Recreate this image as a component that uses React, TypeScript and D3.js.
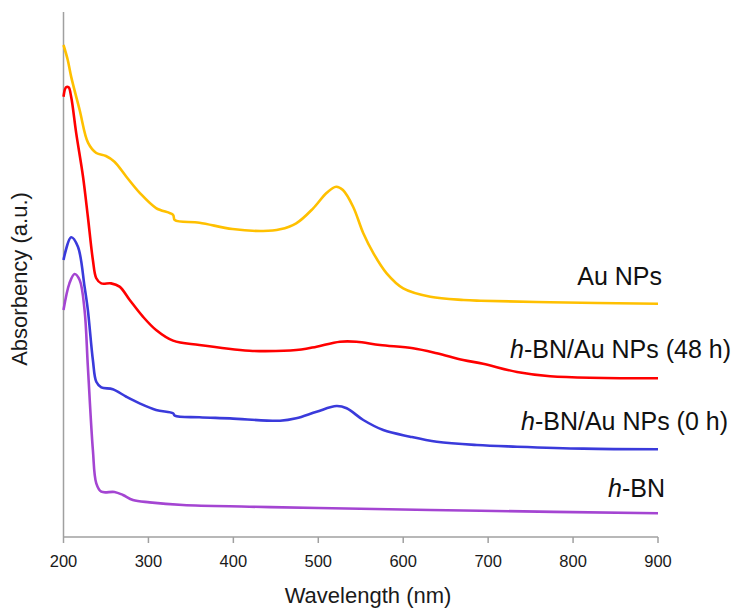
import React from "react";
import * as d3 from "d3";

const xTicks = [200, 300, 400, 500, 600, 700, 800, 900];

const auNPsWl = [200, 205, 209, 219, 229, 238.6, 250, 260, 274, 290, 309, 329, 331, 360, 399, 435, 455, 474, 494, 510, 521, 529, 541, 553, 565, 580.5, 600, 632, 671, 691, 773, 900];
const auNPsAbs = [3.28, 3.18, 3.069, 2.847, 2.627, 2.56, 2.54, 2.502, 2.402, 2.293, 2.193, 2.147, 2.113, 2.095, 2.053, 2.04, 2.051, 2.091, 2.191, 2.295, 2.335, 2.313, 2.202, 2.025, 1.891, 1.758, 1.658, 1.602, 1.58, 1.575, 1.565, 1.555];

const bn48Wl = [200, 203, 206, 209, 215, 223, 228.7, 234.6, 238.6, 244.5, 256, 266, 278, 293.5, 309, 329, 360, 419, 450, 480, 498, 525.5, 545, 572.6, 611.6, 639.5, 670.6, 694, 734, 773, 900];
const bn48Abs = [2.935, 2.998, 2.998, 2.935, 2.691, 2.402, 2.135, 1.847, 1.725, 1.691, 1.691, 1.669, 1.58, 1.469, 1.38, 1.309, 1.28, 1.242, 1.24, 1.25, 1.269, 1.302, 1.302, 1.28, 1.258, 1.225, 1.18, 1.155, 1.1, 1.072, 1.058];

const bn0Wl = [200, 209, 217, 224.8, 228.7, 234.6, 238.6, 244.5, 258, 274, 289.6, 309, 329, 331, 360, 396, 455, 474, 498, 521.5, 533.4, 553, 576.5, 608, 639.5, 686.7, 734, 812, 900];
const bn0Abs = [1.847, 1.998, 1.935, 1.669, 1.513, 1.18, 1.035, 0.998, 0.985, 0.935, 0.891, 0.847, 0.825, 0.809, 0.798, 0.791, 0.775, 0.791, 0.835, 0.873, 0.858, 0.78, 0.713, 0.669, 0.635, 0.613, 0.602, 0.589, 0.585];

const hbnWl = [200, 207, 213, 219, 224.8, 228.7, 234.6, 238.6, 244.5, 260, 270, 281.7, 301.4, 340.7, 419, 500, 691, 900];
const hbnAbs = [1.513, 1.691, 1.753, 1.713, 1.513, 1.135, 0.58, 0.358, 0.302, 0.3, 0.28, 0.247, 0.231, 0.213, 0.202, 0.193, 0.175, 0.158];

const seriesNames = ["Au NPs", "h-BN/Au NPs (48 h)", "h-BN/Au NPs (0 h)", "h-BN"];
const seriesColors = ["#FFC000", "#FF0000", "#3A3ADB", "#A445D2"];

const FONT = "'Liberation Sans', Arial, sans-serif";

export default function App() {
  const x = d3.scaleLinear().domain([200, 900]).range([63.5, 658]);
  const y = d3.scaleLinear().domain([0, 3.5]).range([537, 12]);
  const line = d3
    .line<[number, number]>()
    .x((d) => x(d[0]))
    .y((d) => y(d[1]))
    .curve(d3.curveCatmullRom.alpha(0.5));

  const series = [
    { wl: auNPsWl, ab: auNPsAbs },
    { wl: bn48Wl, ab: bn48Abs },
    { wl: bn0Wl, ab: bn0Abs },
    { wl: hbnWl, ab: hbnAbs },
  ];

  const labels = [
    { x: 662, y: 285, parts: [["", "Au NPs"]] },
    { x: 731, y: 358, parts: [["h", "-BN/Au NPs (48 h)"]] },
    { x: 728, y: 430, parts: [["h", "-BN/Au NPs (0 h)"]] },
    { x: 665, y: 497, parts: [["h", "-BN"]] },
  ];

  return (
    <svg
      width={736}
      height={610}
      style={{ position: "absolute", left: 0, top: 0, background: "#fff" }}
      fontFamily={FONT}
    >
      <rect width={736} height={610} fill="#fff" />
      <line x1={x(200)} x2={x(200)} y1={12} y2={537} stroke="#A0A0A0" strokeWidth={1.5} />
      <line x1={x(200)} x2={x(900)} y1={537} y2={537} stroke="#A0A0A0" strokeWidth={1.5} />
      {xTicks.map((t) => (
        <g key={t}>
          <line x1={x(t)} x2={x(t)} y1={537} y2={543} stroke="#A0A0A0" strokeWidth={1.5} />
          <text x={x(t)} y={566.5} textAnchor="middle" fontSize={16.5} fill="#1a1a1a">
            {t}
          </text>
        </g>
      ))}
      <text x={368} y={603} textAnchor="middle" fontSize={22} fill="#1a1a1a">
        Wavelength (nm)
      </text>
      <text
        transform="translate(27,279) rotate(-90)"
        textAnchor="middle"
        fontSize={22}
        fill="#1a1a1a"
      >
        Absorbency (a.u.)
      </text>
      {series.map((s, i) => (
        <path
          key={seriesNames[i]}
          d={line(s.wl.map((w, j) => [w, s.ab[j]] as [number, number])) || ""}
          fill="none"
          stroke={seriesColors[i]}
          strokeWidth={2.6}
          strokeLinejoin="round"
        />
      ))}
      {labels.map((l, i) => (
        <text key={i} x={l.x} y={l.y} textAnchor="end" fontSize={25} fill="#111">
          {l.parts.map(([it, rest], k) => (
            <React.Fragment key={k}>
              {it && <tspan fontStyle="italic">{it}</tspan>}
              <tspan>{rest}</tspan>
            </React.Fragment>
          ))}
        </text>
      ))}
    </svg>
  );
}
